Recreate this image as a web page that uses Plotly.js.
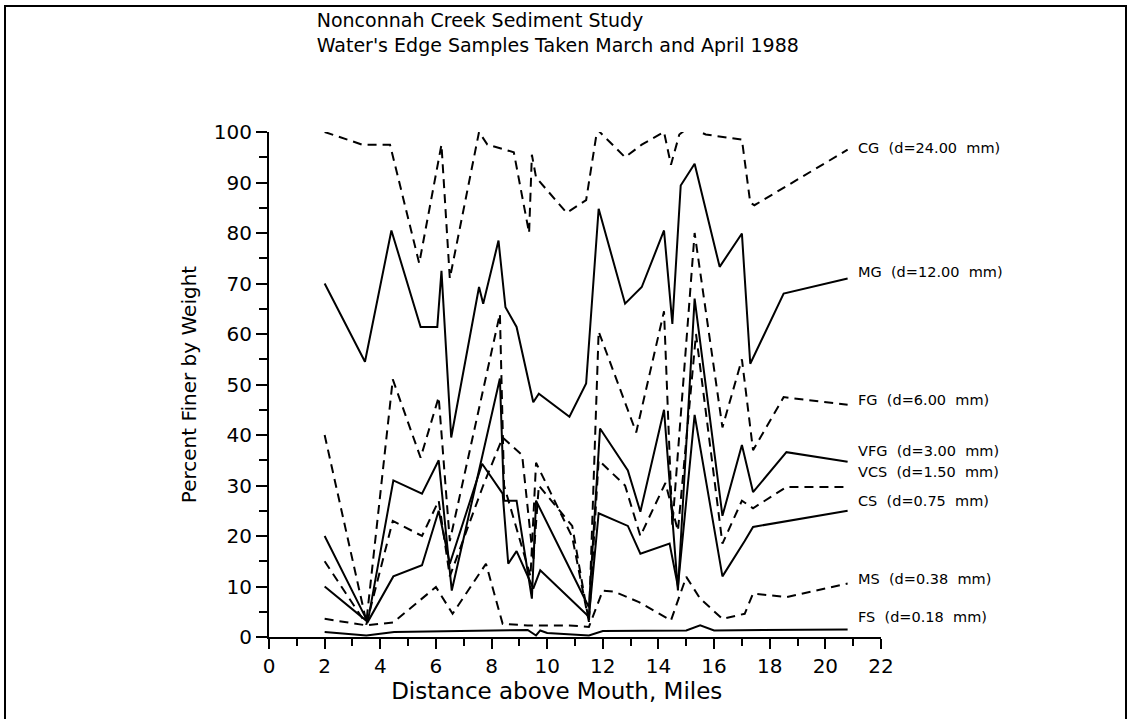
<!DOCTYPE html>
<html>
<head>
<meta charset="utf-8">
<script src="https://cdn.plot.ly/plotly-3.0.1.min.js"></script>
<style>
html,body{margin:0;padding:0;background:#fff;}
#frame{position:absolute;left:4px;top:5px;width:1123px;height:720px;border-left:2px solid #000;border-top:2px solid #000;border-right:2px solid #000;box-sizing:border-box;pointer-events:none;z-index:5;}
#chart{position:absolute;left:0;top:0;width:1130px;height:719px;}
</style>
</head>
<body>
<div id="chart"></div>
<div id="frame"></div>
<script>
// Distance above mouth (miles) and percent finer by weight for each size class
const CG_x  = [2.0, 3.35, 4.35, 5.4, 6.2, 6.5, 7.55, 7.85, 8.8, 9.35, 9.45, 9.6, 10.7, 11.4, 11.8, 12.8, 13.4, 14.2, 14.45, 14.75, 15.1, 15.7, 17.0, 17.3, 17.45, 20.8];
const CG    = [100, 97.5, 97.5, 74, 97.5, 71, 100, 97.5, 96, 80, 95.5, 91, 84, 86.5, 100.5, 95, 97.5, 100, 93.5, 99.5, 101, 99.5, 98.5, 86, 85.5, 96.5];

const MG_x  = [2.0, 3.45, 4.4, 5.45, 6.05, 6.2, 6.55, 7.55, 7.7, 8.25, 8.5, 8.9, 9.5, 9.7, 10.8, 11.4, 11.85, 12.8, 13.4, 14.2, 14.5, 14.8, 15.3, 16.2, 17.0, 17.3, 18.5, 20.8];
const MG    = [70, 54.5, 80.5, 61.4, 61.4, 72.5, 39.5, 69.3, 66, 78.5, 65.3, 61.4, 46.5, 48.2, 43.6, 50.2, 84.8, 66, 69.3, 80.5, 62, 89.4, 93.7, 73.3, 79.9, 54.1, 68, 71];

const FG_x  = [2.0, 3.5, 4.45, 5.45, 6.1, 6.5, 8.3, 8.45, 9.4, 9.6, 10.9, 11.5, 11.85, 13.2, 14.2, 14.5, 15.3, 16.3, 17.0, 17.4, 18.5, 20.8];
const FG    = [40, 3, 51, 35.5, 47.5, 19, 64, 30, 12, 34.5, 19.8, 3, 60.5, 40.5, 64.5, 22, 80, 41.5, 55, 37, 47.5, 46];

const VFG_x = [2.0, 3.55, 4.47, 5.5, 6.1, 6.57, 8.3, 8.45, 8.9, 9.45, 9.6, 11.5, 11.9, 12.9, 13.35, 14.2, 14.7, 15.3, 16.3, 17.0, 17.4, 18.6, 20.8];
const VFG   = [20, 3, 31, 28.4, 35, 9.2, 51.2, 27, 27, 7.6, 27, 5.9, 41.3, 33, 24.8, 45, 9.2, 67, 24, 38, 28.7, 36.6, 34.7];

const VCS_x = [2.0, 3.5, 4.45, 5.5, 6.1, 6.5, 7.7, 8.4, 9.1, 9.5, 9.7, 10.9, 11.5, 11.85, 12.8, 13.35, 14.25, 14.7, 15.35, 16.3, 17.0, 17.4, 18.6, 20.8];
const VCS   = [15, 2.5, 23, 20, 27, 12, 30, 39.5, 36, 15, 30, 22, 3, 35, 30, 20, 30.5, 21, 60, 18.5, 27, 25.5, 29.7, 29.7];

const CS_x  = [2.0, 3.55, 4.47, 5.5, 6.1, 6.5, 7.66, 8.4, 8.6, 8.9, 9.5, 9.75, 11.5, 11.85, 12.9, 13.35, 14.4, 14.7, 15.3, 16.3, 17.1, 17.4, 20.8];
const CS    = [10, 3, 12, 14.2, 25, 14.5, 34.3, 28.4, 14.5, 17, 9.6, 13.2, 4, 24.5, 22, 16.5, 18.5, 10, 44, 12, 19, 21.8, 25];

const MS_x  = [2.0, 3.5, 4.47, 6.0, 6.6, 7.8, 8.4, 9.3, 10.8, 11.5, 12.0, 12.4, 13.3, 14.45, 15.0, 15.5, 16.3, 17.1, 17.4, 18.6, 20.8];
const MS    = [3.6, 2.3, 2.9, 9.9, 4.6, 14.5, 2.6, 2.3, 2.3, 2, 9.2, 9, 6.9, 3.3, 11.9, 7.6, 3.6, 4.6, 8.6, 7.9, 10.6];

const FS_x  = [2.0, 3.5, 4.5, 9.3, 9.6, 9.75, 10.0, 11.5, 12.0, 15.0, 15.5, 16.0, 20.8];
const FS    = [1.0, 0.3, 1.0, 1.4, 0.3, 1.3, 0.8, 0.3, 1.2, 1.3, 2.3, 1.3, 1.5];

const labels = ["CG  (d=24.00  mm)", "MG  (d=12.00  mm)", "FG  (d=6.00  mm)", "VFG  (d=3.00  mm)",
                "VCS  (d=1.50  mm)", "CS  (d=0.75  mm)", "MS  (d=0.38  mm)", "FS  (d=0.18  mm)"];
const labelY = [96.8, 72.2, 46.9, 36.8, 32.6, 27.0, 11.4, 3.9];

const xTicks = [0, 2, 4, 6, 8, 10, 12, 14, 16, 18, 20, 22];
const yTicks = [0, 10, 20, 30, 40, 50, 60, 70, 80, 90, 100];

const series = [
  {x: CG_x, y: CG, dash: true},
  {x: MG_x, y: MG, dash: false},
  {x: FG_x, y: FG, dash: true},
  {x: VFG_x, y: VFG, dash: false},
  {x: VCS_x, y: VCS, dash: true},
  {x: CS_x, y: CS, dash: false},
  {x: MS_x, y: MS, dash: true},
  {x: FS_x, y: FS, dash: false}
];

const traces = series.map((s, i) => ({
  type: 'scatter', mode: 'lines', x: s.x, y: s.y, name: labels[i],
  line: {color: '#000', width: 2, dash: s.dash ? '9px,6px' : 'solid'},
  cliponaxis: false, hoverinfo: 'skip'
}));

const FONT = 'DejaVu Sans, Liberation Sans, sans-serif';

const annotations = labels.map((t, i) => ({
  x: 21.1, y: labelY[i], xref: 'x', yref: 'y', text: t, showarrow: false,
  xanchor: 'left', yanchor: 'middle', font: {family: FONT, size: 14.5, color: '#000'}
}));

const layout = {
  width: 1130, height: 719, autosize: false,
  paper_bgcolor: '#fff', plot_bgcolor: '#fff',
  margin: {l: 269, r: 249, t: 132, b: 82, pad: 0},
  showlegend: false,
  title: {
    text: 'Nonconnah Creek Sediment Study<br>Water\'s Edge Samples Taken March and April 1988',
    xref: 'paper', x: 0.078, xanchor: 'left', yref: 'container', y: 0.962, yanchor: 'top',
    font: {family: FONT, size: 19, color: '#000'}
  },
  xaxis: {
    range: [0, 22], tickvals: xTicks, ticktext: xTicks.map(String),
    showgrid: false, zeroline: false, showline: true, linecolor: '#000', linewidth: 2,
    ticks: 'outside', ticklen: 10, tickwidth: 2, tickcolor: '#000',
    minor: {dtick: 1, tick0: 0, ticks: 'outside', ticklen: 7, tickwidth: 2, tickcolor: '#000', showgrid: false},
    tickfont: {family: FONT, size: 20, color: '#000'},
    title: {text: 'Distance above Mouth, Miles&nbsp;&nbsp;&nbsp;&nbsp;&nbsp;', font: {family: FONT, size: 23, color: '#000'}, standoff: 0},
    fixedrange: true
  },
  yaxis: {
    range: [0, 100], tickvals: yTicks, ticktext: yTicks.map(String),
    showgrid: false, zeroline: false, showline: true, linecolor: '#000', linewidth: 2,
    ticks: 'outside', ticklen: 11, tickwidth: 2, tickcolor: '#000',
    minor: {dtick: 5, tick0: 0, ticks: 'outside', ticklen: 8, tickwidth: 2, tickcolor: '#000', showgrid: false},
    tickfont: {family: FONT, size: 20, color: '#000'},
    title: {text: 'Percent Finer by Weight', font: {family: FONT, size: 20, color: '#000'}, standoff: 12},
    fixedrange: true
  },
  annotations: annotations
};

Plotly.newPlot('chart', traces, layout, {displayModeBar: false, staticPlot: true});
</script>
</body>
</html>
